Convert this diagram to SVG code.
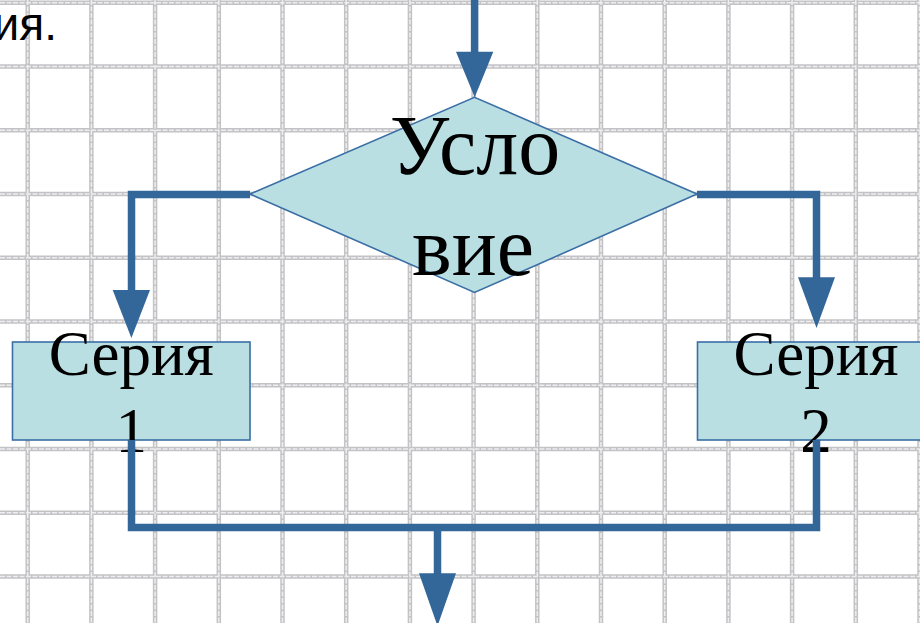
<svg xmlns="http://www.w3.org/2000/svg" width="920" height="623" viewBox="0 0 920 623">
<defs>
<style>
.g1{stroke:#c3c3c6;stroke-width:4.5;fill:none}
.g2{stroke:#eeeef0;stroke-width:1.5;stroke-dasharray:5 1.5;fill:none}
.shape{fill:#b9dfe3;stroke:#3a6ea5;stroke-width:1.6}
.t{font-family:"Liberation Serif","Times New Roman",serif;fill:#000;text-anchor:middle}
.conn{fill:none;stroke:#336699;stroke-width:7.5;stroke-linejoin:miter}
.head{fill:#336699;stroke:none}
</style>
</defs>
<rect width="920" height="623" fill="#fff"/>
<g id="grid">
<path class="g1" d="M27.7 0V623M91.4 0V623M155.1 0V623M218.8 0V623M282.5 0V623M346.2 0V623M409.9 0V623M473.6 0V623M537.3 0V623M601 0V623M664.7 0V623M728.4 0V623M792.1 0V623M855.8 0V623M919.5 0V623M0 2.7H920M0 66.5H920M0 130.2H920M0 194H920M0 257.7H920M0 321.5H920M0 385.2H920M0 449H920M0 512.7H920M0 576.5H920"/>
<path class="g2" d="M27.7 0V623M91.4 0V623M155.1 0V623M218.8 0V623M282.5 0V623M346.2 0V623M409.9 0V623M473.6 0V623M537.3 0V623M601 0V623M664.7 0V623M728.4 0V623M792.1 0V623M855.8 0V623M919.5 0V623M0 2.7H920M0 66.5H920M0 130.2H920M0 194H920M0 257.7H920M0 321.5H920M0 385.2H920M0 449H920M0 512.7H920M0 576.5H920"/>
</g>
<text x="57" y="40" font-family="Liberation Sans, Arial, sans-serif" font-size="46" text-anchor="end" fill="#000">ия.</text>
<g id="condition">
<polygon class="shape" points="250,194 474.5,97.3 697,194 474.5,292.5"/>
<text class="t" font-size="84"><tspan x="475" y="174">Усло</tspan><tspan x="473" y="275">вие</tspan></text>
</g>
<g id="series1">
<rect class="shape" x="12.5" y="342" width="237.5" height="98"/>
<text class="t" font-size="63"><tspan x="131.3" y="375">Серия</tspan><tspan x="131.3" y="452">1</tspan></text>
</g>
<g id="series2">
<rect class="shape" x="697.5" y="342" width="237.5" height="98"/>
<text class="t" font-size="63"><tspan x="816" y="375">Серия</tspan><tspan x="816" y="452">2</tspan></text>
</g>
<g id="connectors">
<path class="conn" d="M474.6 0V53"/>
<polygon class="head" points="456,51.7 493.3,51.7 474.7,97.3"/>
<path class="conn" d="M250 194.5H131.5V291"/>
<polygon class="head" points="112.7,290 150,290 131.4,338"/>
<path class="conn" d="M697 194.5H816.5V278"/>
<polygon class="head" points="798,277.3 835,277.3 816.5,328"/>
<path class="conn" d="M131.5 440V527.5H816.5V440"/>
<path class="conn" d="M437.5 527.5V574"/>
<polygon class="head" points="419,573.3 456,573.3 437.5,626"/>
</g>
</svg>
